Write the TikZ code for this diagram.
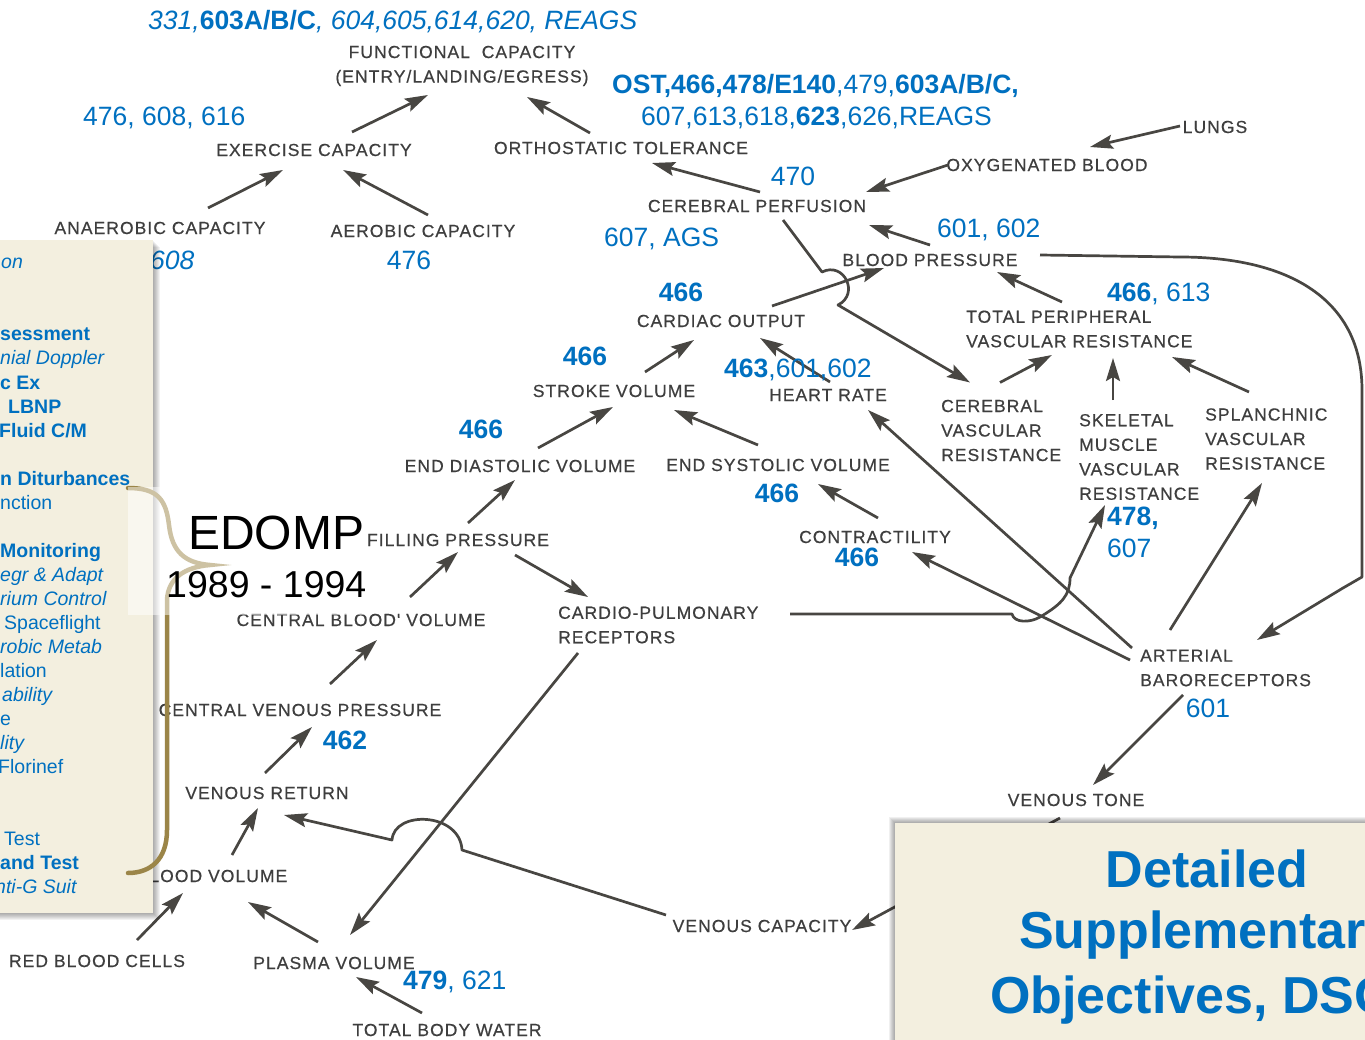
\documentclass[tikz,border=0pt]{standalone}
\usepackage{fontspec}
\setmainfont{Liberation Sans}
\newfontfamily\labfamily[LetterSpace=6,FakeBold=0.5]{Liberation Sans}
\usetikzlibrary{arrows.meta}
\definecolor{myblue}{RGB}{0,112,192}
\definecolor{labgray}{RGB}{62,62,62}
\definecolor{linegray}{RGB}{72,70,66}
\definecolor{panelbg}{RGB}{243,239,223}
\definecolor{bracecol}{RGB}{155,133,72}
\newcommand\labf{\labfamily\fontsize{17.5}{24.5}\selectfont}
\newcommand\numf{\fontsize{26.5}{30}\selectfont}
\newcommand\sidef{\fontsize{19.5}{24}\selectfont}
\begin{document}
\begin{tikzpicture}[x=1pt,y=-1pt,
  lab/.style={inner sep=0pt, font=\labf, text=labgray},
  labl/.style={lab, align=left, anchor=west},
  num/.style={inner sep=0pt, font=\numf, text=myblue, anchor=base west},
  numc/.style={inner sep=0pt, font=\numf, text=myblue, anchor=base},
  side/.style={inner sep=0pt, font=\sidef, text=myblue, anchor=base west},
  arr/.style={draw=linegray, line width=2.7pt, line join=round,
    -{Stealth[length=23pt,width=14pt,inset=4pt]}},
  ttl/.style={inner sep=0pt, font=\fontsize{52}{60}\selectfont\bfseries, text=myblue, anchor=base}
]
\useasboundingbox (0,0) rectangle (1365,1040);
\fill[white] (0,0) rectangle (1365,1040);

% ---------- labels ----------
\node[lab, align=center] (func) at (462,66) {FUNCTIONAL\ \ CAPACITY\\(ENTRY/LANDING/EGRESS)};
\node[lab] (exer) at (314,150) {EXERCISE CAPACITY};
\node[lab] (orth) at (621,148) {ORTHOSTATIC TOLERANCE};
\node[lab] (anae) at (160,228) {ANAEROBIC CAPACITY};
\node[lab] (aero) at (423,231) {AEROBIC CAPACITY};
\node[lab] (cperf) at (757,206) {CEREBRAL PERFUSION};
\node[lab] (oxy) at (1047,165) {OXYGENATED BLOOD};
\node[lab] (lungs) at (1215,127) {LUNGS};
\node[lab] (bp) at (930,260) {BLOOD PRESSURE};
\node[lab] (co) at (721,321) {CARDIAC OUTPUT};
\node[labl] (tpvr) at (966,329) {TOTAL PERIPHERAL\\VASCULAR RESISTANCE};
\node[lab] (sv) at (614,391) {STROKE VOLUME};
\node[lab] (hr) at (828,395) {HEART RATE};
\node[labl] (cvr) at (941,430.5) {CEREBRAL\\VASCULAR\\RESISTANCE};
\node[labl] (smvr) at (1079,457) {SKELETAL\\MUSCLE\\VASCULAR\\RESISTANCE};
\node[labl] (svr) at (1205,439) {SPLANCHNIC\\VASCULAR\\RESISTANCE};
\node[lab] (edv) at (520,466) {END DIASTOLIC VOLUME};
\node[lab] (esv) at (778,465) {END SYSTOLIC VOLUME};
\node[lab] (contr) at (875,537) {CONTRACTILITY};
\node[lab] (fp) at (458,540) {FILLING PRESSURE};
\node[labl] (cpr) at (558,625) {CARDIO-PULMONARY\\RECEPTORS};
\node[lab] (cbv) at (361,620) {CENTRAL BLOOD' VOLUME};
\node[labl] (abr) at (1140,668) {ARTERIAL\\BARORECEPTORS};
\node[lab] (cvp) at (300,710) {CENTRAL VENOUS PRESSURE};
\node[lab] (vr) at (267,793) {VENOUS RETURN};
\node[lab] (vt) at (1076,800) {VENOUS TONE};
\node[lab] (bv) at (212,876) {BLOOD VOLUME};
\node[lab] (vc) at (762,926) {VENOUS CAPACITY};
\node[lab] (rbc) at (97,961) {RED BLOOD CELLS};
\node[lab] (pv) at (334,963) {PLASMA VOLUME};
\node[lab] (tbw) at (447,1030) {TOTAL BODY WATER};

% ---------- connectors ----------
\draw[arr] ([shift={(38,-18)}]exer.center) -- ([shift={(-34,29)}]func.center);
\draw[arr] ([shift={(-31,-15)}]orth.center) -- ([shift={(65,31)}]func.center);
\draw[arr] ([shift={(48,-20)}]anae.center) -- ([shift={(-31,20)}]exer.center);
\draw[arr] ([shift={(5,-16)}]aero.center) -- ([shift={(29,20)}]exer.center);
\draw[arr] ([shift={(3,-14)}]cperf.center) -- ([shift={(31,15)}]orth.center);
\draw[arr] ([shift={(-99,0)}]oxy.center) -- ([shift={(109,-14)}]cperf.center);
\draw[arr] ([shift={(-35,-1)}]lungs.center) -- ([shift={(43,-18)}]oxy.center);
\draw[arr] ([shift={(0,-15)}]bp.center) -- ([shift={(112,19)}]cperf.center);
\draw[arr] ([shift={(51,-15)}]co.center) -- ([shift={(-46,8)}]bp.center);
\draw[arr] ([shift={(26,14)}]cperf.center) -- (822,272) .. controls (844,261) and (860,294) .. (838,305) -- ([shift={(29,-48)}]cvr.west);
\draw[arr] ([shift={(96,-27)}]tpvr.west) -- ([shift={(67,12)}]bp.center);
\draw[arr] ([shift={(110,-5)}]bp.center) -- (1180,257) .. controls (1290,257) and (1362,300) .. (1362,390) -- (1362,577) -- (1343,588) -- ([shift={(117,-28)}]abr.west);
\draw[arr] ([shift={(31,-19)}]sv.center) -- ([shift={(-27,19)}]co.center);
\draw[arr] ([shift={(2,-13)}]hr.center) -- ([shift={(39,17)}]co.center);
\draw[arr] ([shift={(18,-18)}]edv.center) -- ([shift={(-1,16)}]sv.center);
\draw[arr] ([shift={(-20,-20)}]esv.center) -- ([shift={(60,19)}]sv.center);
\draw[arr] ([shift={(10,-17)}]fp.center) -- ([shift={(-5,14)}]edv.center);
\draw[arr] ([shift={(3,-19)}]contr.center) -- ([shift={(40,19)}]esv.center);
\draw[arr] ([shift={(49,-23)}]cbv.center) -- ([shift={(0,12)}]fp.center);
\draw[arr] ([shift={(57,15)}]fp.center) -- ([shift={(30,-28)}]cpr.west);
\draw[arr] ([shift={(30,-26)}]cvp.center) -- ([shift={(16,20)}]cbv.center);
\draw[arr] ([shift={(-2,-20)}]vr.center) -- ([shift={(12,17)}]cvp.center);
\draw[arr] ([shift={(20,28)}]cpr.west) -- ([shift={(16,-28)}]pv.center);
\draw[arr] ([shift={(20,-21)}]bv.center) -- ([shift={(-9,15)}]vr.center);
\draw[arr] ([shift={(-96,-11)}]vc.center) -- (462,850) .. controls (460,812) and (394,810) .. (392,840) -- ([shift={(17,22)}]vr.center);
\draw[arr] ([shift={(40,-21)}]rbc.center) -- ([shift={(-29,17)}]bv.center);
\draw[arr] ([shift={(-16,-21)}]pv.center) -- ([shift={(36,26)}]bv.center);
\draw[arr] ([shift={(-25,-17)}]tbw.center) -- ([shift={(22,14)}]pv.center);
\draw[arr] ([shift={(-16,18)}]vt.center) -- ([shift={(90,4)}]vc.center);
\draw[arr] ([shift={(43,27)}]abr.west) -- ([shift={(17,-15)}]vt.center);
\draw[arr] ([shift={(30,-38)}]abr.west) -- ([shift={(57,44)}]svr.west);
\draw[arr] ([shift={(-8,-20)}]abr.west) -- ([shift={(40,15)}]hr.center);
\draw[arr] ([shift={(-10,-8)}]abr.west) -- ([shift={(37,15)}]contr.center);
\draw[arr] ([shift={(232,-11)}]cpr.west) -- (1012,614) .. controls (1014,623) and (1030,623) .. (1040,617) .. controls (1062,604) and (1070,595) .. (1070,578) -- ([shift={(26,48)}]smvr.west);
\draw[arr] ([shift={(59,-48)}]cvr.west) -- ([shift={(86,26)}]tpvr.west);
\draw[arr] ([shift={(34,-57)}]smvr.west) -- ([shift={(147,29)}]tpvr.west);
\draw[arr] ([shift={(44,-47)}]svr.west) -- ([shift={(206,28)}]tpvr.west);

% ---------- blue numbers ----------
\node[num] (n1) at (148,29.5) {{\itshape 331,}{\bfseries 603A/B/C}{\itshape , 604,605,614,620, REAGS}};
\node[num] (n2) at (612,93.5) {{\bfseries OST,466,478/E140},479,{\bfseries 603A/B/C,}};
\node[num] (n3) at (641,125.5) {607,613,618,{\bfseries 623},626,REAGS};
\node[num] (n4) at (83,125.5) {476, 608, 616};
\node[numc] (n5) at (793,185.5) {470};
\node[num] (n6) at (604,246.5) {607, AGS};
\node[num] (n7) at (937,237.5) {601, 602};
\node[num] (n8) at (150,269.5) {\itshape 608};
\node[numc] (n9) at (409,269.5) {476};
\node[numc] (n10) at (681,301.5) {\bfseries 466};
\node[num] (n11) at (1107,301.5) {{\bfseries 466}, 613};
\node[numc] (n12) at (585,365.5) {\bfseries 466};
\node[num] (n13) at (724,377.5) {{\bfseries 463},601,602};
\node[numc] (n14) at (481,438.5) {\bfseries 466};
\node[numc] (n15) at (777,502.5) {\bfseries 466};
\node[num] (n16) at (1107,525.5) {\bfseries 478,};
\node[num] (n17) at (1107,557.5) {607};
\node[numc] (n18) at (857,566.5) {\bfseries 466};
\node[numc] (n19) at (345,749.5) {\bfseries 462};
\node[numc] (n20) at (1208,717.5) {601};
\node[num] (n21) at (403,989.5) {{\bfseries 479}, 621};

% ---------- left panel ----------
\foreach \i in {1,...,7} {\fill[black,opacity=0.05] (-10,240+\i) rectangle (153+\i,913+\i);}
\fill[panelbg] (-10,240) rectangle (153,913);
\node[side] (s1) at (1,269) {\itshape on};
\node[side] (s2) at (0,341) {\bfseries sessment};
\node[side] (s3) at (0,365) {\itshape nial Doppler};
\node[side] (s4) at (0,389) {\bfseries c Ex};
\node[side] (s5) at (8,413) {\bfseries LBNP};
\node[side] (s6) at (-1,437) {\bfseries Fluid C/M};
\node[side] (s7) at (0,485) {\bfseries n Diturbances};
\node[side] (s8) at (0,509) {nction};
\node[side] (s9) at (0,557) {\bfseries Monitoring};
\node[side] (s10) at (0,581) {\itshape egr \& Adapt};
\node[side] (s11) at (0,605) {\itshape rium Control};
\node[side] (s12) at (4,629) {Spaceflight};
\node[side] (s13) at (0,653) {\itshape robic Metab};
\node[side] (s14) at (0,677) {lation};
\node[side] (s15) at (2,701) {\itshape ability};
\node[side] (s16) at (0,725) {e};
\node[side] (s17) at (0,749) {\itshape lity};
\node[side] (s18) at (-2,773) {Florinef};
\node[side] (s19) at (4,845) {Test};
\node[side] (s20) at (0,869) {\bfseries and Test};
\node[side] (s21) at (-5,893) {\itshape nti-G Suit};

% ---------- brace ----------
\draw[bracecol, line width=4.5pt, line cap=round]
  (128,488) .. controls (158,488) and (166,500) .. (169,525)
  .. controls (172,552) and (185,563) .. (210,565)
  .. controls (185,567) and (168,578) .. (167,600)
  -- (167,830) .. controls (167,860) and (150,873) .. (128,873);
\fill[white,opacity=0.5] (128,487) rectangle (366,615);
\node[inner sep=0pt, anchor=west, font=\fontsize{48}{50}\selectfont] (edomp) at (188,533) {EDOMP};
\node[inner sep=0pt, anchor=west, font=\fontsize{37.5}{40}\selectfont] (years) at (166,585) {1989 - 1994};

% ---------- right box ----------
\foreach \i in {1,...,6} {\fill[black,opacity=0.06] (895-\i,823-\i) rectangle (1375,1045);}
\fill[panelbg] (895,823) rectangle (1375,1045);
\node[ttl] (t1) at (1207,887) {Detailed};
\node[ttl] (t2) at (1207,948) {Supplementary};
\node[ttl] (t3) at (1207,1013) {Objectives, DSOs};
\end{tikzpicture}
\end{document}
